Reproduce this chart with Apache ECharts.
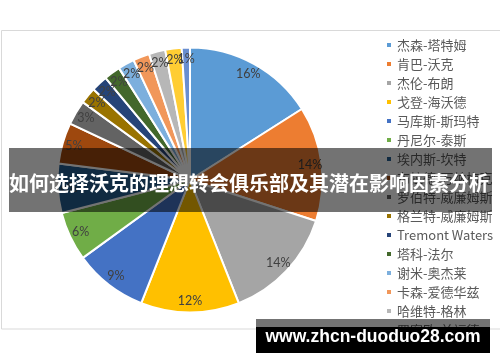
<!DOCTYPE html>
<html><head><meta charset="utf-8">
<script src="https://cdn.jsdelivr.net/npm/echarts@6/dist/echarts.min.js"></script>
<style>html,body{margin:0;padding:0;background:#fff}#c{width:500px;height:362px}</style>
</head><body><div id="c"></div>
<script>
var names = ['杰森-塔特姆','肯巴-沃克','杰伦-布朗','戈登-海沃德','马库斯-斯玛特','丹尼尔-泰斯','埃内斯-坎特','布拉德-万纳梅克','罗伯特-威廉姆斯','格兰特-威廉姆斯','Tremont Waters','塔科-法尔','谢米-奥杰莱','卡森-爱德华兹','哈维特-格林','罗密欧-兰福德','文森特-波里尔'];
var percents = [16,14,14,12,9,6,6,5,3,2,2,2,2,2,2,2,1];
var colors = ['#5B9BD5','#ED7D31','#A5A5A5','#FFC000','#4472C4','#70AD47','#255E91','#9E480E','#636363','#997300','#264478','#43682B','#7CAFDD','#F1975A','#B7B7B7','#FFCD33','#698ED0'];
var title = '如何选择沃克的理想转会俱乐部及其潜在影响因素分析';
var watermark = 'www.zhcn-duoduo28.com';

var data = names.map(function(n,i){return {name:n, value:percents[i]};});
var chart = echarts.init(document.getElementById('c'));
chart.setOption({
  animation:false,
  color: colors,
  legend: {
    orient:'vertical', left:385, top:37, height:400, padding:0,
    data: names.slice(0,16),
    icon:'rect', itemWidth:6, itemHeight:6, itemGap:3,
    textStyle:{fontFamily:'Noto Sans CJK SC', fontSize:13, color:'#595959', lineHeight:16}
  },
  series: [
    {type:'pie', center:[190,180], radius:[0,132.5], startAngle:90, clockwise:true,
     data:data, label:{show:false}, labelLine:{show:false}, silent:true,
     itemStyle:{borderColor:'#fff', borderWidth:2}, emphasis:{disabled:true}},
    {type:'pie', center:[190,180], radius:[104,132], startAngle:90, clockwise:true,
     data:data, silent:true, emphasis:{disabled:true}, labelLine:{show:false},
     labelLayout:{hideOverlap:false},
     itemStyle:{color:'rgba(0,0,0,0)', borderWidth:0},
     label:{show:true, position:'inside', formatter:'{c}%', color:'#404040', fontFamily:'Lato', fontSize:12.5}}
  ],
  graphic: [
    {type:'rect', z:-1, shape:{x:1.5, y:30.5, width:520, height:298.5}, style:{fill:'none', stroke:'#d9d9d9', lineWidth:1}},
    {type:'rect', z:100, shape:{x:9, y:148, width:483, height:64}, style:{fill:'rgba(0,0,0,0.55)'}},
    {type:'text', z:101, x:249, y:183, style:{text:title, fill:'#fff', font:'bold 20px "Noto Sans CJK SC"', textAlign:'center', textVerticalAlign:'middle'}},
    {type:'rect', z:100, shape:{x:256, y:319, width:234, height:8}, style:{fill:'rgba(0,0,0,0.55)'}},
    {type:'rect', z:100, shape:{x:256, y:327, width:234, height:26}, style:{fill:'#000'}},
    {type:'text', z:101, x:373, y:337, style:{text:watermark, fill:'#fff', font:'bold 17.5px "Liberation Sans"', textAlign:'center', textVerticalAlign:'middle'}}
  ]
});
</script></body></html>
